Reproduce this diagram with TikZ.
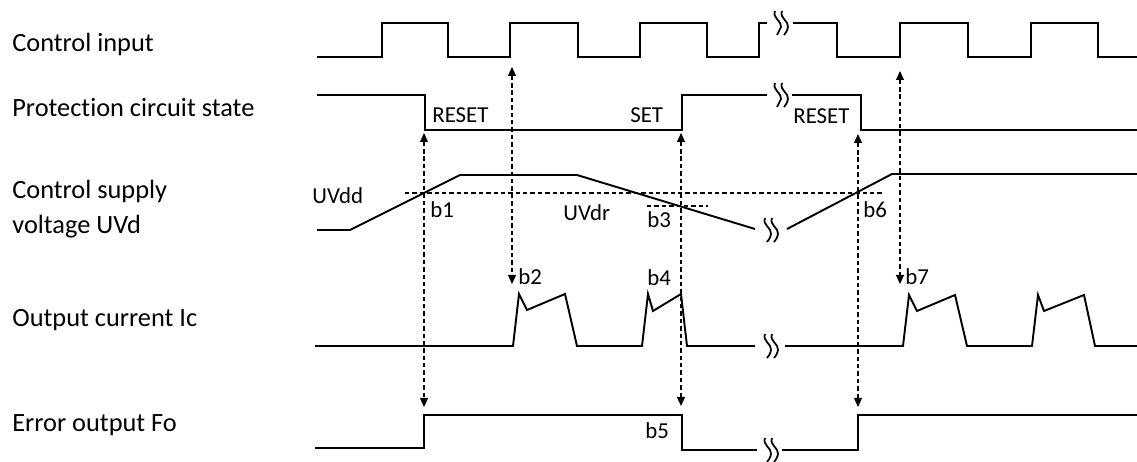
\documentclass[tikz,border=0pt]{standalone}
\usepackage{fontspec}
\setmainfont[Ligatures=NoCommon]{Carlito}
\usetikzlibrary{arrows.meta}

\begin{document}
\begin{tikzpicture}[x=0.02cm, y=-0.02cm]
    \tikzset{signal/.style = {line width=1.1pt, line join=miter}}
    \tikzset{level/.style = {line width=0.6pt, dash pattern=on 2.5pt off 1.7pt}}
    \tikzset{marker/.style = {{Triangle[length=1.8mm,width=1.6mm]}-{Triangle[length=1.8mm,width=1.6mm]}, line width=0.6pt, dash pattern=on 2.5pt off 1.7pt}}
    \tikzset{rowlabel/.style = {anchor=base west, inner sep=0pt, font=\fontsize{15}{18}\selectfont}}
    \tikzset{tag/.style = {anchor=base west, inner sep=0pt, font=\fontsize{13}{16}\selectfont}}
    \tikzset{brk/.pic = {
        \draw[line width=1pt] (-6,-12) .. controls (-9,-5) and (1,-2) .. (0,4) .. controls (-1,8) .. (-4,12);
        \draw[line width=1pt] (1,-12) .. controls (-2,-5) and (8,-2) .. (7,4) .. controls (6,8) .. (3,12);
    }}

    \useasboundingbox (0,0) rectangle (1137,462);

    % row labels
    \node[rowlabel] (lblCtrl) at (12,52) {Control input};
    \node[rowlabel] (lblProt) at (12,117) {Protection circuit state};
    \node[rowlabel] (lblSupA) at (12,199) {Control supply};
    \node[rowlabel] (lblSupB) at (12,234) {voltage UVd};
    \node[rowlabel] (lblIc) at (12,327) {Output current Ic};
    \node[rowlabel] (lblFo) at (12,432) {Error output Fo};

    % control input
    \draw[signal] (317,57) -- (382,57) -- (382,23) -- (448,23) -- (448,57) -- (510,57) -- (510,23) -- (578,23) -- (578,57)
        -- (640,57) -- (640,23) -- (707,23) -- (707,57) -- (759,57) -- (759,23) -- (767,23);
    \pic at (781,23) {brk};
    \draw[signal] (793,23) -- (837,23) -- (837,57) -- (900,57) -- (900,23) -- (968,23) -- (968,57) -- (1031,57) -- (1031,23)
        -- (1098,23) -- (1098,57) -- (1137,57);

    % protection circuit state
    \draw[signal] (317,95) -- (425,95) -- (425,130) -- (682,130) -- (682,95) -- (767,95);
    \pic at (781,95) {brk};
    \draw[signal] (792,95) -- (861,95) -- (861,130) -- (1137,130);
    \node[tag] (rst1) at (432,123) {RESET};
    \node[tag] (set1) at (630,123) {SET};
    \node[tag] (rst2) at (793,124) {RESET};

    % control supply voltage
    \draw[signal] (317,230) -- (350,230) -- (460,175) -- (577,175) -- (755,229);
    \pic at (771,230) {brk};
    \draw[signal] (787,229) -- (892,174) -- (1137,174);
    \coordinate (uvddL) at (405,193);
    \coordinate (uvddR) at (883,193);
    \coordinate (uvdrL) at (647,206);
    \coordinate (uvdrR) at (708,206);
    \draw[level] (uvddL) -- (uvddR);
    \draw[level] (uvdrL) -- (uvdrR);
    \node[tag] (uvdd) at (312,204) {UVdd};
    \node[tag] (uvdr) at (563,221) {UVdr};

    % output current
    \draw[signal] (315,346) -- (513,346) -- (519,294) -- (527,310) -- (565,294) -- (577,346) -- (642,346) -- (648,294)
        -- (653,311) -- (681,294) -- (687,346) -- (755,346);
    \pic at (771,346) {brk};
    \draw[signal] (785,346) -- (903,346) -- (909,295) -- (917,311) -- (955,295) -- (967,346) -- (1032,346) -- (1038,295)
        -- (1044,311) -- (1084,295) -- (1095,346) -- (1137,346);

    % error output
    \draw[signal] (315,448) -- (424,448) -- (424,415) -- (682,415) -- (682,450) -- (757,450);
    \pic at (771,450) {brk};
    \draw[signal] (782,450) -- (858,450) -- (858,415) -- (1137,415);

    % event markers
    \coordinate (m1t) at (424,133);
    \coordinate (m1b) at (424,407);
    \coordinate (m2t) at (512,67);
    \coordinate (m2b) at (512,284);
    \coordinate (m3t) at (681,133);
    \coordinate (m3b) at (681,406);
    \coordinate (m4t) at (858,134);
    \coordinate (m4b) at (858,407);
    \coordinate (m5t) at (900,71);
    \coordinate (m5b) at (900,284);
    \draw[marker] (m1t) -- (m1b);
    \draw[marker] (m2t) -- (m2b);
    \draw[marker] (m3t) -- (m3b);
    \draw[marker] (m4t) -- (m4b);
    \draw[marker] (m5t) -- (m5b);

    \node[tag] (b1) at (430,218) {b1};
    \node[tag] (b2) at (518,285) {b2};
    \node[tag] (b3) at (647,228) {b3};
    \node[tag] (b4) at (647,286) {b4};
    \node[tag] (b5) at (645,439) {b5};
    \node[tag] (b6) at (863,218) {b6};
    \node[tag] (b7) at (905,285) {b7};
\end{tikzpicture}
\end{document}
